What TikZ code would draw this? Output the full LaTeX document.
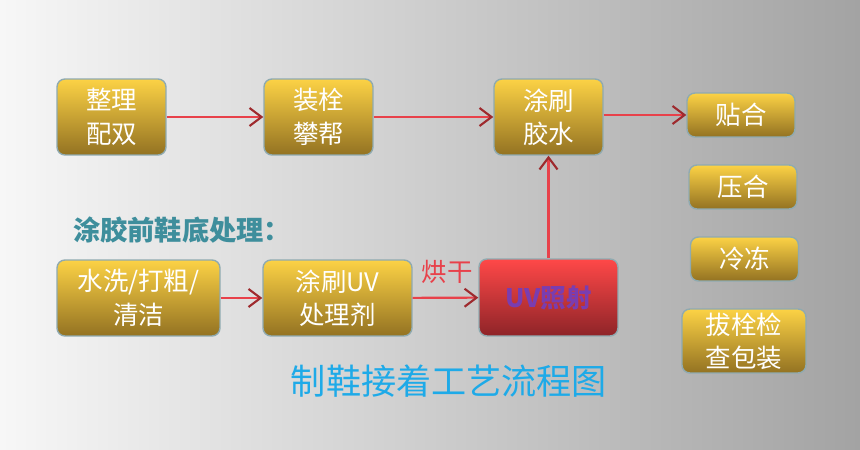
\documentclass[tikz,border=0pt]{standalone}
\usepackage{fontspec}
\setmainfont{Noto Sans CJK SC}
\usetikzlibrary{arrows.meta}

\definecolor{bgleft}{HTML}{F7F7F7}
\definecolor{bgmid}{HTML}{DADADA}
\definecolor{bgright}{HTML}{A3A3A3}
\definecolor{boxtop}{HTML}{FCD245}
\definecolor{boxbot}{HTML}{937222}
\definecolor{boxline}{HTML}{8FAAB0}
\definecolor{uvtop}{HTML}{FF4848}
\definecolor{uvbot}{HTML}{8E2428}
\definecolor{uvtext}{HTML}{7A3DB0}
\definecolor{flowred}{HTML}{E8414A}
\definecolor{tipred}{HTML}{9E2A2E}
\definecolor{headteal}{HTML}{3E8E9C}
\definecolor{titlecyan}{HTML}{1EAAE8}

\tikzset{
	stepbox/.style={draw=boxline, line width=.8pt, rounded corners=4.5pt,
		top color=boxtop, bottom color=boxbot, text=white, align=center,
		inner sep=0pt, font=\fontsize{14.5}{19}\selectfont,
		minimum width=2.18cm, minimum height=1.52cm},
	smallbox/.style={stepbox, minimum width=2.16cm, minimum height=.88cm},
	flow/.style={flowred, line width=1.2pt,
		-{Straight Barb[color=tipred,length=2.4mm,width=3.6mm,line width=1.2pt]}}
}

\begin{document}
\begin{tikzpicture}[x=.02cm,y=-.02cm]
	% background
	\shade[left color=bgleft, middle color=bgmid, right color=bgright] (0,0) rectangle (860,450);

	% main line
	\node[stepbox] (zl) at (111.5,117) {整理\\配双};
	\node[stepbox] (zs) at (318.5,117) {装栓\\攀帮};
	\node[stepbox] (jiao) at (548.5,117) {涂刷\\胶水};

	% right column
	\node[smallbox] (tie) at (741,115) {贴合};
	\node[smallbox] (ya) at (743,187) {压合};
	\node[smallbox] (leng) at (744.5,259) {冷冻};
	\node[stepbox,minimum width=2.48cm,minimum height=1.28cm] (ba) at (744,341) {拔栓检\\查包装};

	% sole treatment
	\node[anchor=west,text=headteal,font=\fontsize{15.5}{18}\selectfont\bfseries] (head) at (67,230) {涂胶前鞋底处理：};
	\node[stepbox,minimum width=3.26cm] (xi) at (138.5,298) {水洗/打粗/\\清洁};
	\node[stepbox,minimum width=2.98cm] (tu) at (337.5,298) {涂刷UV\\处理剂};
	\node[stepbox,top color=uvtop,bottom color=uvbot,text=uvtext,
		minimum width=2.78cm,minimum height=1.54cm,font=\fontsize{14.5}{19}\selectfont\bfseries] (uv) at (548.5,297.5) {UV照射};
	\node[text=flowred,font=\fontsize{14.5}{18}\selectfont] (hong) at (447,272) {烘干};

	\draw[flow] (zl) -- (zs);
	\draw[flow] (zs) -- (jiao);
	\draw[flow] (jiao.east |- tie.west) -- (tie.west);
	\draw[flow] (xi) -- (tu);
	\draw[flow] (tu) -- (uv);
	\draw[flow] (uv) -- (jiao);

	\node[text=titlecyan,font=\fontsize{20}{24}\selectfont] (title) at (449,381) {制鞋接着工艺流程图};
\end{tikzpicture}
\end{document}
